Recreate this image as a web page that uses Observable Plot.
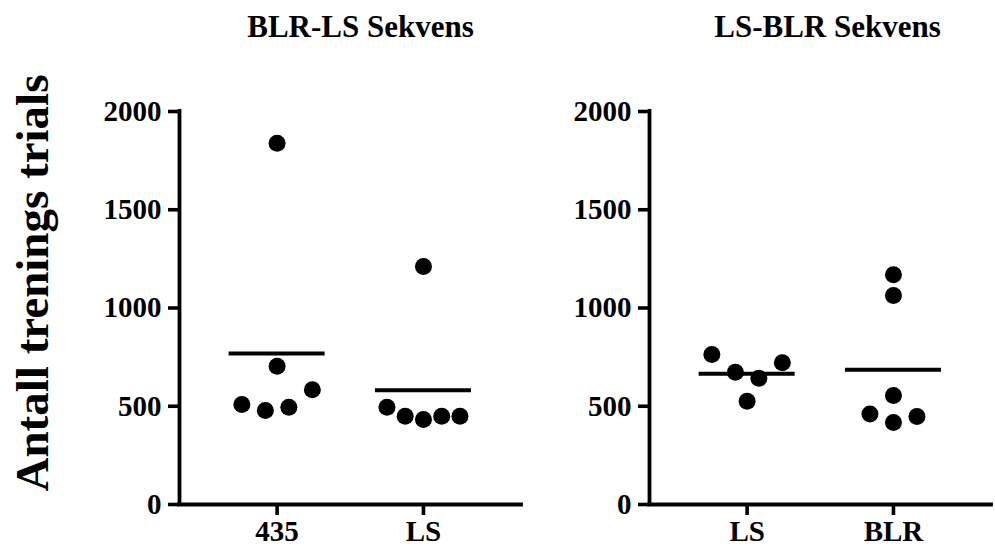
<!DOCTYPE html>
<html><head><meta charset="utf-8">
<script src="https://cdn.jsdelivr.net/npm/d3@7"></script>
<script src="https://cdn.jsdelivr.net/npm/@observablehq/plot@0.6"></script>
<style>
body{margin:0;background:#fff;}
#wrap{position:relative;width:995px;height:547px;font-family:"Liberation Serif","Times New Roman",serif;font-weight:bold;color:#000;overflow:hidden;}
.title{position:absolute;top:11px;width:400px;text-align:center;font-size:31px;line-height:31px;white-space:nowrap;}
#ylab{position:absolute;left:32px;top:283px;transform:translate(-50%,-50%) rotate(-90deg);font-size:47px;line-height:47px;white-space:nowrap;}
#p1{position:absolute;left:0;top:0;}
#p2{position:absolute;left:530px;top:0;}
</style></head><body>
<div id="wrap">
  <div id="p1"></div><div id="p2"></div>
  <div class="title" style="left:160.5px">BLR-LS Sekvens</div>
  <div class="title" style="left:627.5px">LS-BLR Sekvens</div>
  <div id="ylab">Antall trenings trials</div>
</div>
<script>
// ---- data ----
const titles = ["BLR-LS Sekvens", "LS-BLR Sekvens"];
const yLabel = "Antall trenings trials";
const yTicks = [0, 500, 1000, 1500, 2000];
const leftCats = ["435", "LS"];
const left435 = [1839, 704, 509, 478, 495, 584];
const leftLS = [1211, 495, 449, 433, 449, 449];
const rightCats = ["LS", "BLR"];
const rightLS = [763, 673, 643, 721, 526];
const rightBLR = [1169, 1064, 555, 461, 417, 448];

// ---- layout ----
const H = 547, MT = 111, MB = 43;
const xDomain = [-0.667, 1.67];
const yDomain = [0, 2000];
const R = 8.5;
const TICK = 11;

// group points into rows (single linkage in pixel y) and spread each row centred
function scatterLayout(values, yScale) {
  const items = values.map((v, k) => ({v, k, py: yScale.apply(v)}));
  const sorted = items.slice().sort((a, b) => a.py - b.py);
  const rows = [];
  let cur = null;
  for (const it of sorted) {
    if (cur && it.py - cur[cur.length - 1].py < 18) cur.push(it);
    else { cur = [it]; rows.push(cur); }
  }
  for (const row of rows) {
    row.sort((a, b) => a.k - b.k);
    const n = row.length;
    const s = n > 1 ? Math.min(23.5, 73 / (n - 1)) : 0;
    row.forEach((it, j) => it.off = (j - (n - 1) / 2) * s);
  }
  return items;
}

function panel(el, cats, groups, marginLeft, width, marginRight) {
  const yScale = Plot.scale({y: {domain: yDomain, range: [H - MB, MT]}});
  const pxPerUnit = (width - marginRight - marginLeft) / (xDomain[1] - xDomain[0]);
  const pxPerValue = (H - MB - MT) / (yDomain[1] - yDomain[0]);
  const points = [];
  const means = [];
  groups.forEach((vals, i) => {
    for (const it of scatterLayout(vals, yScale)) points.push({x: i + it.off / pxPerUnit, y: it.v});
    means.push({i, mean: d3.mean(vals)});
  });
  const half = 48 / pxPerUnit;
  const chart = Plot.plot({
    width, height: H, marginLeft, marginRight, marginTop: MT, marginBottom: MB,
    x: {domain: xDomain},
    y: {domain: yDomain},
    style: {fontFamily: "'Liberation Serif','Times New Roman',serif", fontWeight: "bold", fontSize: "29px", background: "transparent", overflow: "visible", color: "black"},
    marks: [
      Plot.axisY(yTicks, {tickSize: 0, tickPadding: 18, fontSize: 29, fontWeight: "bold", tickFormat: d => String(d), label: null}),
      Plot.axisX([0, 1], {tickSize: 0, tickPadding: 16, fontSize: 29, fontWeight: "bold", tickFormat: i => cats[i], label: null}),
      // tick marks
      Plot.ruleY(yTicks, {x1: xDomain[0] - TICK / pxPerUnit, x2: xDomain[0], stroke: "black", strokeWidth: 3.6}),
      Plot.ruleX([0, 1], {y1: 0, y2: -TICK / pxPerValue, stroke: "black", strokeWidth: 3.6}),
      // axis lines
      Plot.ruleY([0], {stroke: "black", strokeWidth: 3.8, strokeLinecap: "square"}),
      Plot.ruleX([xDomain[0]], {stroke: "black", strokeWidth: 3.8, strokeLinecap: "square"}),
      // means
      Plot.ruleY(means, {y: "mean", x1: d => d.i - half, x2: d => d.i + half, stroke: "black", strokeWidth: 4}),
      Plot.dot(points, {x: "x", y: "y", r: R, fill: "black", stroke: "none"})
    ]
  });
  document.getElementById(el).append(chart);
}

panel("p1", leftCats, [left435, leftLS], 179, 530, 9);
panel("p2", rightCats, [rightLS, rightBLR], 119, 465, 4);
</script>
</body></html>
